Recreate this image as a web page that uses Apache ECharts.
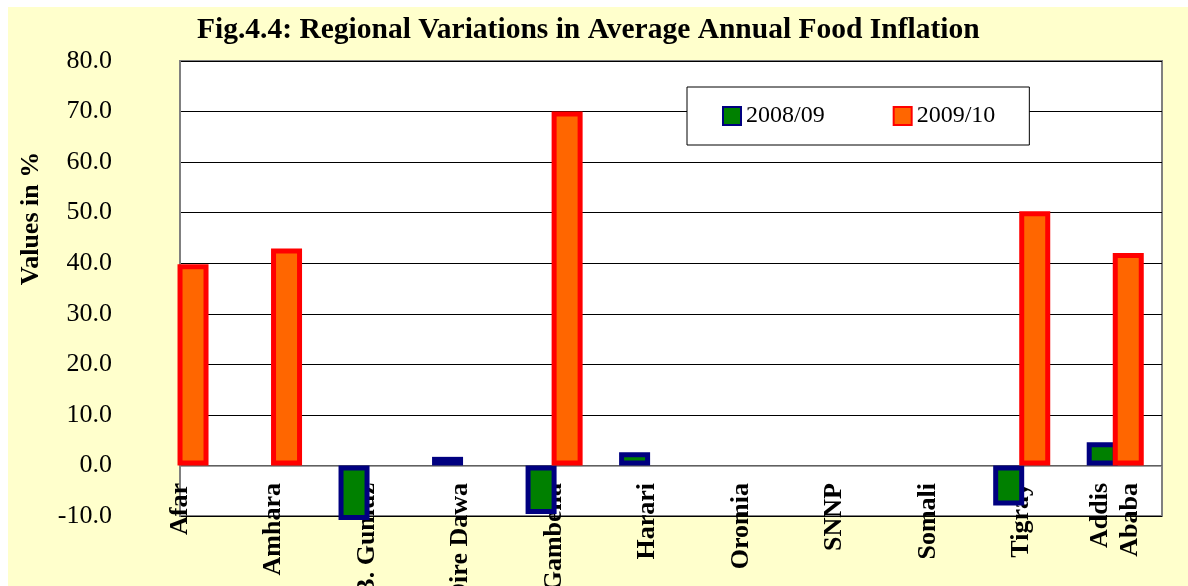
<!DOCTYPE html>
<html>
<head>
<meta charset="utf-8">
<script src="https://cdn.jsdelivr.net/npm/echarts@6/dist/echarts.min.js"></script>
<style>
  html, body { margin: 0; padding: 0; background: #fff; }
  #chart { position: absolute; left: 8px; top: 7px; width: 1180px; height: 579px; background: #ffffcc; }
</style>
</head>
<body>
<div id="chart"></div>
<script>
// regions on the x axis
const regions = ["Afar", "Amhara", "B. Gumuz", "Dire Dawa", "Gambella", "Harari",
  "Oromia", "SNNP", "Somali", "Tigray", "Addis\nAbaba"];
// average annual food inflation, %
const infl0809 = [null, null, -10.8, 1.7, -9.6, 2.6, null, null, null, -7.9, 4.6];
const infl0910 = [39.8, 42.9, null, null, 70.0, null, null, null, null, 50.3, 42.0];
const seriesNames = ["2008/09", "2009/10"];
const yMin = -10, yMax = 80, yStep = 10;

// the axis is laid out in half-steps so the first region sits on the left edge
function halfSlots(arr, fill) {
  const out = [];
  arr.forEach((v) => { out.push(v); out.push(fill); });
  return out;
}

const serif = "Liberation Serif, Times New Roman, serif";
const chart = echarts.init(document.getElementById("chart"));

const option = {
  animation: false,
  title: {
    text: "Fig.4.4: Regional Variations in Average Annual Food Inflation",
    left: 189,
    top: 8,
    padding: 0,
    textStyle: { fontFamily: serif, fontSize: 29.5, fontWeight: "bold", color: "#000" }
  },
  legend: {
    data: seriesNames,
    icon: "rect",
    left: 679,
    top: 80,
    padding: [17, 34, 17, 35],
    itemWidth: 18,
    itemHeight: 18,
    itemGap: 68,
    backgroundColor: "#fff",
    borderColor: "#000",
    borderWidth: 1,
    textStyle: { fontFamily: serif, fontSize: 24, color: "#000" }
  },
  grid: {
    left: 172,
    right: 26,
    top: 54,
    bottom: 70,
    outerBoundsMode: "none",
    containLabel: false,
    show: true,
    backgroundColor: "#fff",
    borderColor: "#808080",
    borderWidth: 2
  },
  xAxis: {
    type: "category",
    boundaryGap: false,
    data: halfSlots(regions, ""),
    axisLine: { onZero: true, lineStyle: { color: "#808080", width: 1.5 } },
    axisTick: { show: false },
    splitLine: { show: false },
    axisLabel: {
      interval: 0,
      rotate: 90,
      margin: -33,
      fontFamily: serif,
      fontSize: 26,
      fontWeight: "bold",
      lineHeight: 30,
      color: "#000"
    }
  },
  yAxis: {
    type: "value",
    min: yMin,
    max: yMax,
    interval: yStep,
    name: "Values in %",
    nameLocation: "middle",
    nameGap: 136,
    nameTextStyle: {
      fontFamily: serif, fontSize: 26, fontWeight: "bold", color: "#000",
      padding: [0, 0, 0, 140]
    },
    axisLine: { show: true, lineStyle: { color: "#808080", width: 2 } },
    axisTick: { show: false },
    splitLine: { lineStyle: { color: "#000", width: 1 } },
    axisLabel: {
      margin: 68,
      fontFamily: serif,
      fontSize: 26,
      color: "#000",
      formatter: (v) => v.toFixed(1)
    }
  },
  series: [
    {
      name: seriesNames[0],
      type: "bar",
      data: halfSlots(infl0809, null),
      barWidth: 31,
      barGap: "-16%",
      clip: false,
      itemStyle: { color: "#008000", borderColor: "#000080", borderWidth: 5 }
    },
    {
      name: seriesNames[1],
      type: "bar",
      data: halfSlots(infl0910, null),
      barWidth: 31,
      barGap: "-16%",
      itemStyle: { color: "#ff6600", borderColor: "#ff0000", borderWidth: 5 }
    }
  ]
};

chart.setOption(option);
</script>
</body>
</html>
